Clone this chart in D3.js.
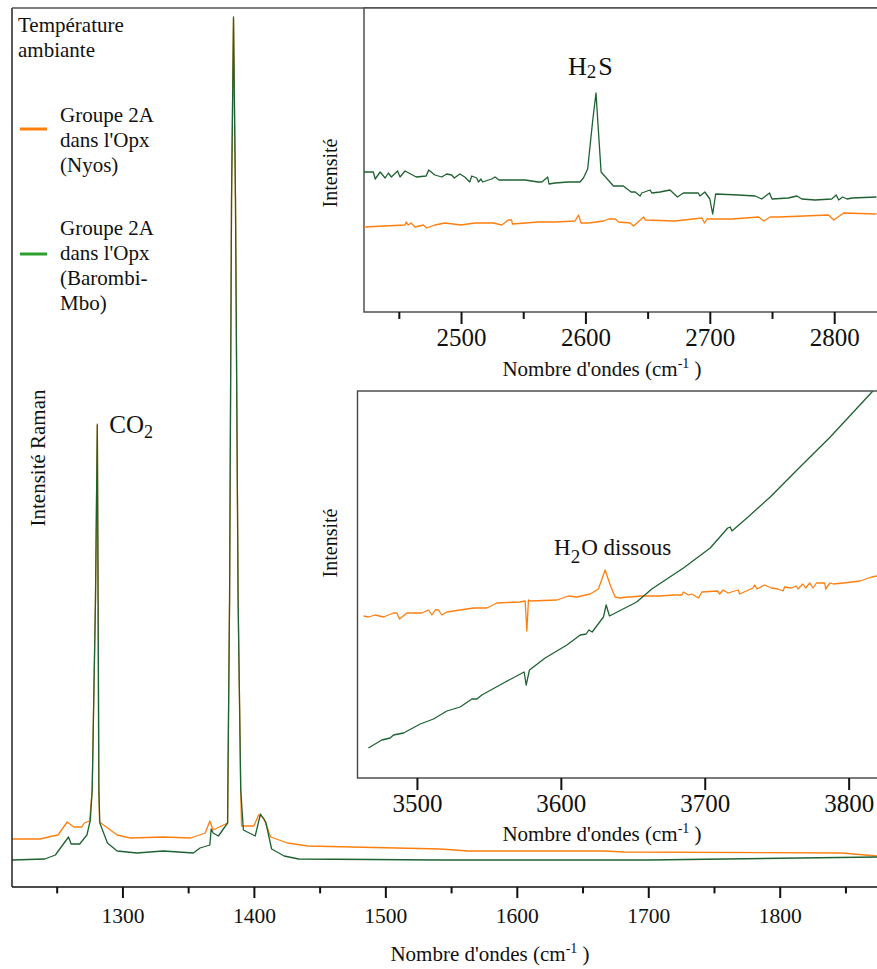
<!DOCTYPE html>
<html lang="fr">
<head>
<meta charset="UTF-8">
<title>Spectres Raman - Groupe 2A dans l'Opx</title>
<script src="https://d3js.org/d3.v7.min.js"></script>
<style>
  body { margin: 0; background: #fff; }
  svg, svg text { font-family: "Liberation Serif", "Times New Roman", Tinos, "DejaVu Serif", "Noto Serif", serif; }
  .frame { fill: #fff; stroke: #444; stroke-width: 1.4; }
  .curve { fill: none; stroke-width: 1.3; stroke-linejoin: round; }
</style>
</head>
<body>
<svg id="chart" width="877" height="969"></svg>
<script>
// wavenumber (cm-1), intensity (a.u.)
const nyosMain = [[1216,48],[1237.5,48],[1247,51],[1251,52],[1258,65],[1263,60],[1269,60],[1271,64],[1275,66],
  [1277,97],[1279.5,287],[1280.9,463],[1281.5,287],[1282,97],[1282.6,65],[1296,52],[1306,49],[1331,50],[1352,49],
  [1363,54],[1366.5,66],[1369,57],[1380,64],[1380.2,97],[1381.5,287],[1383,687],[1384.5,868],[1386,687],[1388,287],
  [1390,97],[1390.6,61],[1400,61],[1403.6,72],[1407.5,69],[1412.7,50],[1425.6,44],[1441,41],[1542,38],[1563,36],
  [1666,36],[1682,35],[1847,34],[1874,31]];
const barombiMain = [[1216,27],[1241,28],[1249,32],[1259,50],[1261,43],[1267.5,43],[1273,52],[1275.6,67],
  [1277,97],[1279.5,287],[1280.9,462],[1281.5,287],[1282.1,97],[1282.8,64],[1288.6,44],[1296,36],[1311,34],
  [1331,36],[1354,34],[1359,39],[1366.5,42],[1367.5,58],[1369,54],[1373,51],[1380,64],[1380.2,97],[1381.5,287],
  [1383,687],[1384.5,870],[1386,687],[1388,287],[1390,97],[1392,57],[1401,51],[1405,73],[1409,65],[1413.5,38],
  [1423,31],[1434,28],[1542,27],[1700,27],[1874,30]];

const nyosH2S = [[2422,85],[2455,87],[2455.8,90],[2457.6,87],[2459.8,89],[2463,85],[2469.7,87],[2472.4,84],
  [2479,87],[2487,89],[2500,87],[2511,89],[2526,89],[2532.7,87],[2538,92],[2540.7,92],[2541.3,88],[2562,90],
  [2575.5,90],[2591.6,91],[2594.4,97],[2596.5,89],[2602.4,89],[2614.6,91],[2618.5,93],[2624,93],[2626.6,90],
  [2636,89],[2638.7,86],[2646.8,95],[2648,92],[2672,91],[2693.7,94],[2695.7,89],[2697.7,93],[2717.8,93],
  [2739.3,95],[2743.3,91],[2748.6,95],[2755.3,95],[2795.5,97],[2799.6,92],[2807.6,99],[2834,98]];
const barombiH2S = [[2422,140],[2429.5,140],[2431,133],[2435,140],[2439,134],[2441.6,139],[2444,135],[2449,141],
  [2451,135],[2455,141],[2464,135],[2472,136],[2474,142],[2479,137],[2484.5,135],[2488.5,138],[2492.5,137],
  [2494.6,134],[2499,138],[2503,135],[2507,130],[2508.6,136],[2512.6,134],[2514,130],[2516,133],[2517.4,130],
  [2524.6,133],[2527.3,135],[2530.5,132],[2551.4,132],[2562,130],[2565,130],[2569.7,135],[2570.7,128],
  [2575.5,129],[2586.2,130],[2595.6,130],[2598.4,134],[2601.8,143],[2605.9,192],[2608.5,219],[2610.4,182],
  [2612.6,140],[2622.5,126],[2630.5,126],[2636.7,120],[2640,120],[2644,116],[2645.3,119],[2652,122],[2653.4,119],
  [2660,120],[2668,122],[2674,115],[2678.7,119],[2690.7,119],[2692,116],[2696,120],[2700,113],[2702.3,98],
  [2704.7,118],[2723,117],[2736.5,116],[2741.7,113],[2748,119],[2750,113],[2763,114],[2770,116],[2774,113],
  [2784.6,112],[2798,113],[2801.6,117],[2803.6,112],[2806.8,115],[2810.3,113],[2814.3,114],[2834,115]];

const nyosH2O = [[3462.9,162],[3466.3,161],[3471,163],[3476.8,161],[3483.7,165],[3486.1,165],[3487.9,159],
  [3493,165],[3503.4,165],[3508.1,168],[3510.4,163],[3512.7,168],[3515,168],[3517.3,163],[3520.8,166],
  [3539.3,170],[3548.6,170],[3555.6,175],[3571.7,176],[3575.2,177],[3576.4,147],[3577.5,178],[3578.7,177],
  [3597.3,178],[3605.3,182],[3611.1,181],[3620.4,184],[3626.1,189],[3630.8,208],[3634.3,193],[3637.7,181],
  [3641.2,180],[3645.9,181],[3649.3,181],[3655.1,182],[3669,182],[3678.3,183],[3684.1,183],[3685.2,186],
  [3688.7,183],[3691,184],[3695.7,180],[3698,186],[3708.8,187],[3710.4,184],[3712.7,188],[3716.2,185],
  [3723.2,188],[3724.3,184],[3733.5,190],[3734.7,193],[3736.3,189],[3741.6,193],[3746.3,190],[3750.9,189],
  [3754.4,187],[3755.5,191],[3760.2,190],[3763.7,192],[3764.8,189],[3768.2,194],[3770.1,190],[3773,195],
  [3775.2,190],[3777.6,195],[3783.4,195],[3784,189],[3787,195],[3789.4,194],[3796.3,195],[3808,197],
  [3816,201],[3819.7,202]];
const barombiH2O = [[3466.3,30],[3475.6,38],[3481.4,40],[3483.7,43],[3490.7,45],[3502.3,54],[3511.5,59],
  [3520.8,67],[3530,71],[3538.2,79],[3541.7,79],[3545.1,83],[3560.2,95],[3574.5,106],[3575.9,93],[3578.2,108],
  [3589.1,120],[3604.2,133],[3613.5,143],[3617.6,144],[3619.5,148],[3621.8,146],[3629.6,161],[3631.5,173],
  [3633.8,162],[3636.5,164],[3652.7,176],[3663.2,189],[3685.2,210],[3703.8,230],[3716,250],[3717.7,251],
  [3718.9,247],[3729.3,260],[3745.5,281],[3764.1,308],[3787.2,341],[3816.2,386],[3819.7,392]];

const mainMajor = [1300, 1400, 1500, 1600, 1700, 1800];
const mainMinor = [1250, 1350, 1450, 1550, 1650, 1750, 1850];
const h2sMajor = [2500, 2600, 2700, 2800];
const h2sMinor = [2450, 2550, 2650, 2750];
const h2oMajor = [3500, 3600, 3700, 3800];

const legendItems = [
  { lines: ["Groupe 2A", "dans l'Opx", "(Nyos)"], color: "#ff7f0e" },
  { lines: ["Groupe 2A", "dans l'Opx", "(Barombi-", "Mbo)"], color: "#2ca02c" }
];

const ORANGE = "#ff7f0e", GREEN = "#1f6232";
const SERIF = "'Liberation Serif', 'Times New Roman', Tinos, 'DejaVu Serif', 'Noto Serif', serif";
const svg = d3.select("#chart").attr("font-family", SERIF);

function xTitle(g, x, y) {
  const t = g.append("text").attr("x", x).attr("y", y).attr("text-anchor", "middle")
    .attr("font-family", SERIF).attr("font-size", 21).attr("fill", "#111");
  t.append("tspan").text("Nombre d'ondes (cm");
  t.append("tspan").attr("dy", -8).attr("font-size", 14).text("-1");
  t.append("tspan").attr("dy", 8).text(" )");
}

function panel(cfg) {
  const g = svg.append("g").attr("font-family", SERIF);
  const x = d3.scaleLinear().domain(cfg.xDomain).range([cfg.left, cfg.right]);
  const y = d3.scaleLinear().domain(cfg.yDomain).range([cfg.bottom, cfg.top]);
  if (cfg.frame) {
    g.append("rect").attr("class", "frame")
      .attr("x", cfg.left).attr("y", cfg.top)
      .attr("width", cfg.right - cfg.left + 20).attr("height", cfg.bottom - cfg.top);
  }
  const clipId = "clip" + cfg.id;
  svg.append("clipPath").attr("id", clipId).append("rect")
    .attr("x", cfg.left).attr("y", cfg.top).attr("width", cfg.right - cfg.left + 20).attr("height", cfg.bottom - cfg.top);
  const line = d3.line().x(d => x(d[0])).y(d => y(d[1]));
  cfg.series.forEach(s => {
    g.append("path").attr("class", "curve").attr("clip-path", `url(#${clipId})`)
      .attr("stroke", s.color).attr("d", line(s.data));
  });

  const major = g.append("g").attr("transform", `translate(0,${cfg.bottom})`)
    .call(d3.axisBottom(x).tickValues(cfg.major).tickSize(cfg.tick).tickPadding(cfg.pad)
      .tickSizeOuter(0).tickFormat(d3.format("d")));
  major.attr("font-family", SERIF);
  major.select(".domain").remove();
  major.selectAll("line").attr("stroke", "#111").attr("stroke-width", 2);
  major.selectAll("text").attr("font-family", SERIF).attr("font-size", cfg.fs).attr("fill", "#111");
  if (cfg.minor) {
    const minor = g.append("g").attr("transform", `translate(0,${cfg.bottom})`)
      .call(d3.axisBottom(x).tickValues(cfg.minor).tickSize(cfg.tick * 0.58).tickFormat(""));
    minor.select(".domain").remove();
    minor.selectAll("line").attr("stroke", "#111").attr("stroke-width", 2);
  }
  xTitle(g, cfg.titleX, cfg.titleY);
  if (cfg.yLabel) {
    g.append("text").attr("transform", `translate(${cfg.yLabel.x},${cfg.yLabel.y}) rotate(-90)`)
      .attr("text-anchor", "middle").attr("font-size", cfg.yLabel.fs).attr("fill", "#111").text(cfg.yLabel.text);
  }
  return { g, x, y };
}

// main chart
const main = panel({
  id: "main", left: 12, right: 877, top: 8, bottom: 887,
  xDomain: [1216, 1874], yDomain: [0, 879],
  series: [{ data: nyosMain, color: ORANGE }, { data: barombiMain, color: GREEN }],
  major: mainMajor, minor: mainMinor, tick: 11, pad: 10, fs: 21.5,
  titleX: 490, titleY: 961,
  yLabel: { x: 45, y: 458, text: "Intensité Raman", fs: 21 }
});
// main frame: left + top + bottom
main.g.append("line").attr("x1", 12).attr("x2", 12).attr("y1", 8).attr("y2", 887).attr("stroke", "#222").attr("stroke-width", 1.5);
main.g.append("line").attr("x1", 12).attr("x2", 877).attr("y1", 8).attr("y2", 8).attr("stroke", "#555").attr("stroke-width", 1.5);
main.g.append("line").attr("x1", 12).attr("x2", 877).attr("y1", 887).attr("y2", 887).attr("stroke", "#111").attr("stroke-width", 1.5);

// CO2 label
const co2 = main.g.append("text").attr("x", main.x(1290)).attr("y", 433).attr("font-size", 25).attr("fill", "#111");
co2.append("tspan").text("CO");
co2.append("tspan").attr("dy", 5).attr("font-size", 18).text("2");

// legend
main.g.append("text").attr("x", 18).attr("y", 32).attr("font-size", 21).attr("fill", "#111").text("Température");
main.g.append("text").attr("x", 18).attr("y", 57).attr("font-size", 21).attr("fill", "#111").text("ambiante");
const legendTop = [122, 235];
const swatchY = [129, 254];
legendItems.forEach((item, i) => {
  main.g.append("line").attr("x1", 20).attr("x2", 47).attr("y1", swatchY[i]).attr("y2", swatchY[i])
    .attr("stroke", item.color).attr("stroke-width", 3);
  item.lines.forEach((l, j) => {
    main.g.append("text").attr("x", 60).attr("y", legendTop[i] + j * 25)
      .attr("font-size", 21).attr("fill", "#111").text(l);
  });
});

// inset H2S
const ins1 = panel({
  id: "h2s", left: 364, right: 877, top: 8, bottom: 312, frame: true,
  xDomain: [2422, 2834.4], yDomain: [0, 304],
  series: [{ data: nyosH2S, color: ORANGE }, { data: barombiH2S, color: GREEN }],
  major: h2sMajor, minor: h2sMinor, tick: 12, pad: 4, fs: 25,
  titleX: 602, titleY: 376,
  yLabel: { x: 337, y: 173, text: "Intensité", fs: 20 }
});
const h2s = ins1.g.append("text").attr("x", 568).attr("y", 75).attr("font-size", 26).attr("fill", "#111");
h2s.append("tspan").text("H");
h2s.append("tspan").attr("dy", 3).attr("font-size", 19).text("2");
h2s.append("tspan").attr("dy", -3).attr("dx", 2).text("S");

// inset H2O
const ins2 = panel({
  id: "h2o", left: 357.5, right: 877, top: 391, bottom: 778, frame: true,
  xDomain: [3458.7, 3819.7], yDomain: [0, 387],
  series: [{ data: nyosH2O, color: ORANGE }, { data: barombiH2O, color: GREEN }],
  major: h2oMajor, minor: null, tick: 12, pad: 4, fs: 25,
  titleX: 602, titleY: 841,
  yLabel: { x: 337, y: 543, text: "Intensité", fs: 20 }
});
const h2o = ins2.g.append("text").attr("x", 554).attr("y", 555).attr("font-size", 23).attr("fill", "#111");
h2o.append("tspan").text("H");
h2o.append("tspan").attr("dy", 8).attr("font-size", 19).text("2");
h2o.append("tspan").attr("dy", -8).attr("dx", 1).text("O dissous");
</script>
</body>
</html>
